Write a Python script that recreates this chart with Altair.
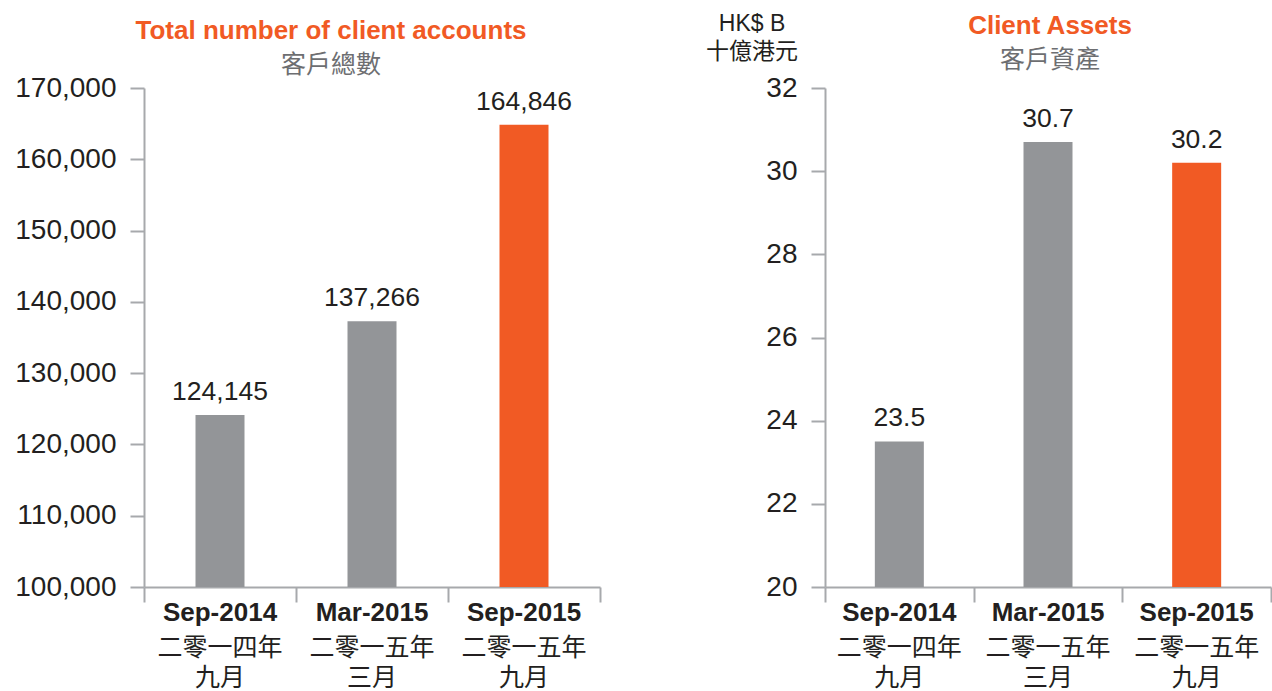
import altair as alt
import pandas as pd

# ---- data ----
dates_en = ["Sep-2014", "Mar-2015", "Sep-2015"]
dates_zh_year = ["二零一四年", "二零一五年", "二零一五年"]
dates_zh_month = ["九月", "三月", "九月"]
accounts = [124145, 137266, 164846]
assets = [23.5, 30.7, 30.2]
highlight = ["base", "base", "latest"]

acc_ticks = [100000, 110000, 120000, 130000, 140000, 150000, 160000, 170000]
asset_ticks = [20, 22, 24, 26, 28, 30, 32]

title_left = "Total number of client accounts"
subtitle_left = "客戶總數"
title_right = "Client Assets"
subtitle_right = "客戶資產"
unit_en = "HK$ B"
unit_zh = "十億港元"

# ---- style ----
GRAY = "#939598"
ORANGE = "#F15A24"
AXIS = "#A7A9AC"
TEXT = "#231F20"
SUB = "#6D6E71"
FONT = "'Liberation Sans', 'Noto Sans CJK TC', sans-serif"
H = 499

df = pd.DataFrame({
    "date": dates_en,
    "zh1": dates_zh_year,
    "zh2": dates_zh_month,
    "accounts": accounts,
    "assets": assets,
    "hl": highlight,
})


def one_text(s, x, y, size, color, weight="normal"):
    return alt.Chart(pd.DataFrame({"t": [s]})).mark_text(
        fontSize=size, fontWeight=weight, color=color, font=FONT,
        align="center", baseline="middle"
    ).encode(text="t:N", x=alt.value(x), y=alt.value(y))


def panel(field, domain, ticks, axis_fmt, val_fmt, width, extra):
    x = alt.X(
        "date:N", sort=dates_en, title=None,
        scale=alt.Scale(paddingInner=0, paddingOuter=0),
        axis=alt.Axis(labels=False, tickBand="extent", tickSize=15, tickWidth=2,
                      tickColor=AXIS, domainColor=AXIS, domainWidth=2),
    )
    y = alt.Y(
        f"{field}:Q", title=None,
        scale=alt.Scale(domain=domain, nice=False, zero=False),
        axis=alt.Axis(values=ticks, format=axis_fmt, grid=False, tickSize=14, tickWidth=2,
                      tickColor=AXIS, domainColor=AXIS, domainWidth=2,
                      labelPadding=14, labelFontSize=28, labelColor=TEXT,
                      labelFont=FONT),
    )
    base = alt.Chart(df).encode(x=x)
    bars = base.mark_bar(size=49, clip=True).encode(
        y=y,
        color=alt.Color("hl:N", scale=alt.Scale(domain=["base", "latest"], range=[GRAY, ORANGE]), legend=None),
    )
    vals = base.mark_text(baseline="bottom", dy=-9, fontSize=26.5, font=FONT, color=TEXT).encode(
        y=alt.Y(f"{field}:Q"), text=alt.Text(f"{field}:Q", format=val_fmt)
    )
    en = base.mark_text(baseline="middle", fontSize=26, fontWeight="bold", font=FONT, color=TEXT).encode(
        y=alt.value(H + 26), text="date:N"
    )
    zh1 = base.mark_text(baseline="middle", fontSize=25, font=FONT, color=TEXT).encode(
        y=alt.value(H + 61), text="zh1:N"
    )
    zh2 = base.mark_text(baseline="middle", fontSize=25, font=FONT, color=TEXT).encode(
        y=alt.value(H + 91), text="zh2:N"
    )
    return alt.layer(bars, vals, en, zh1, zh2, *extra).properties(width=width, height=H)


left = panel(
    "accounts", [100000, 170000], acc_ticks, ",d", ",d", 456,
    [one_text(title_left, 187, -57, 26, ORANGE, "bold"),
     one_text(subtitle_left, 187, -23, 25, SUB)],
)
right = panel(
    "assets", [20, 32], asset_ticks, "d", ".1f", 446,
    [one_text(title_right, 225, -62, 26, ORANGE, "bold"),
     one_text(subtitle_right, 225, -28, 25, SUB),
     one_text(unit_en, -73, -64, 23, TEXT),
     one_text(unit_zh, -73, -36, 23, TEXT)],
)

chart = alt.hconcat(left, right, spacing=105).configure(
    padding={"left": 14, "top": 13, "right": 0, "bottom": 0}, font=FONT
).configure_view(stroke=None)

chart.save("out.html", embed_options={"renderer": "svg", "actions": False})
